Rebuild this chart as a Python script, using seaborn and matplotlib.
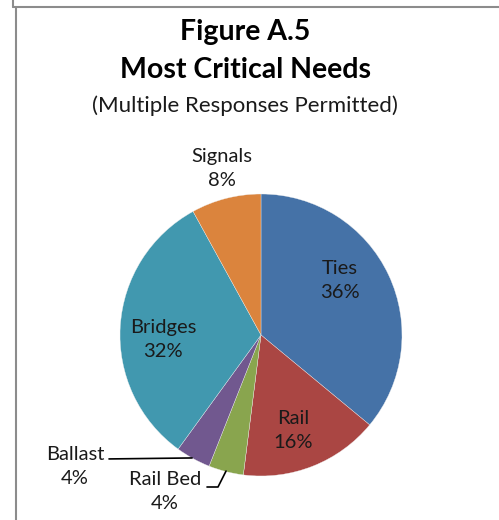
import matplotlib
matplotlib.use("Agg")
import matplotlib.pyplot as plt
import seaborn as sns
from matplotlib.lines import Line2D

sns.set_theme(style="white")
plt.rcParams['font.family'] = ['Lato', 'DejaVu Sans']

# ---- data ----
categories = ["Ties", "Rail", "Rail Bed", "Ballast", "Bridges", "Signals"]
values = [36, 16, 4, 4, 32, 8]
colors = ["#4572A7", "#AA4643", "#89A54E", "#71588F", "#4198AF", "#DB843D"]
title_lines = ["Figure A.5", "Most Critical Needs"]
subtitle = "(Multiple Responses Permitted)"

W, H = 499, 520
fig = plt.figure(figsize=(W / 100, H / 100), dpi=100)
fig.patch.set_facecolor("white")

# pie axes: center (261,335) px, radius 141 px
cx, cy, r = 261, 335, 141
ax = fig.add_axes([(cx - r) / W, (H - cy - r) / H, 2 * r / W, 2 * r / H])
wedges, _ = ax.pie(values, colors=colors, startangle=90, counterclock=False,
                   radius=1.0, wedgeprops=dict(edgecolor="#f0f0f0", linewidth=0.25))
ax.set_xlim(-1, 1)
ax.set_ylim(-1, 1)
ax.set_aspect("equal")
ax.axis("off")

# label positions (data coords, unit = radius)
label_pos = {
    "Ties": (0.56, 0.39),
    "Rail": (0.227, -0.674),
    "Rail Bed": (-0.681, -1.113),
    "Ballast": (-1.319, -0.936),
    "Bridges": (-0.695, -0.035),
    "Signals": (-0.277, 1.18),
}
total = sum(values)
for cat, v in zip(categories, values):
    x, y = label_pos[cat]
    ax.text(x, y, f"{cat}\n{round(100 * v / total)}%", ha="center", va="center",
            fontsize=14.5, color="#1a1a1a", linespacing=1.5, clip_on=False)

# leader lines
ax.add_line(Line2D([-1.078, -0.489], [-0.879, -0.872], color="black", lw=1.2, clip_on=False))
ax.add_line(Line2D([-0.383, -0.305, -0.248], [-1.078, -1.078, -0.965], color="black", lw=1.2, clip_on=False))

# titles
tx = 245 / W
fig.text(tx, 1 - 32 / H, title_lines[0], ha="center", va="center", fontsize=20.5, fontweight="bold", color="black")
fig.text(tx, 1 - 70 / H, title_lines[1], ha="center", va="center", fontsize=20.5, fontweight="bold", color="black")
fig.text(tx, 1 - 106 / H, subtitle, ha="center", va="center", fontsize=16, color="#1a1a1a")

# border lines
bc = "#8c8c8c"
fig.add_artist(Line2D([12.5 / W, 12.5 / W], [1, 1 - 7 / H], transform=fig.transFigure, color=bc, lw=1.5))
fig.add_artist(Line2D([12.5 / W, 1], [1 - 7 / H, 1 - 7 / H], transform=fig.transFigure, color=bc, lw=1.5))
fig.add_artist(Line2D([15.5 / W, 15.5 / W], [1 - 8 / H, 0], transform=fig.transFigure, color=bc, lw=1.5))

fig.savefig("out.png", dpi=100)
